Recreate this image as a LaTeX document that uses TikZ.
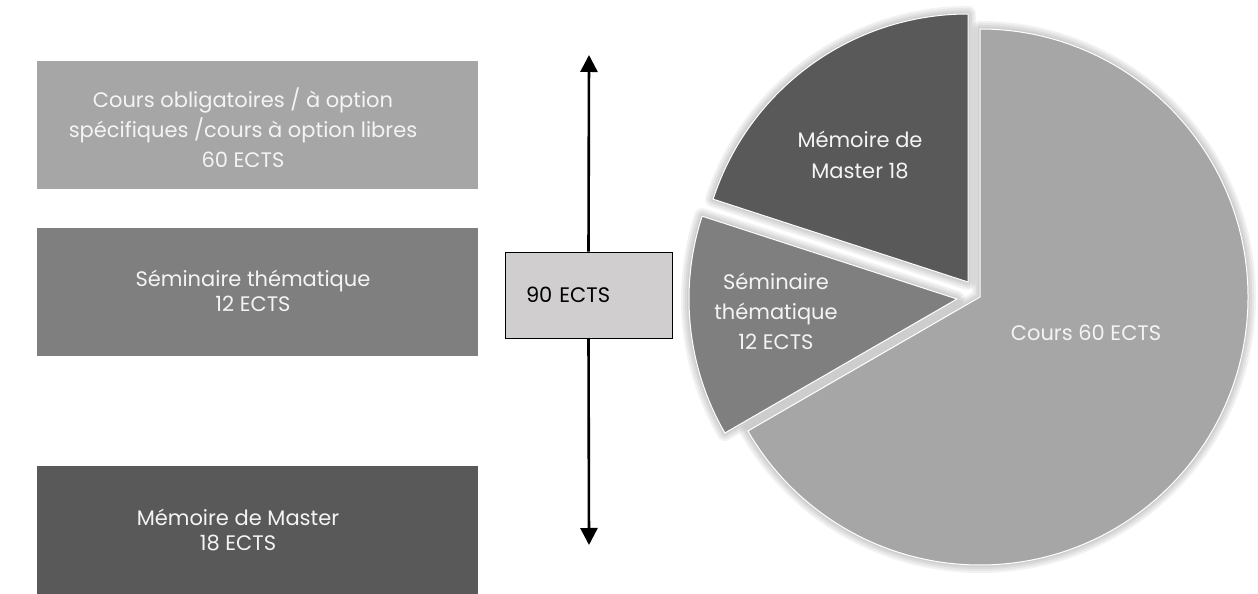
\documentclass[tikz,border=0pt]{standalone}
\usepackage{fontspec}
\setmainfont{Poppins}
\usetikzlibrary{arrows.meta}

\definecolor{grisclair}{HTML}{A6A6A6}
\definecolor{grismoyen}{HTML}{7F7F7F}
\definecolor{grisfonce}{HTML}{595959}
\definecolor{grisboite}{HTML}{D0CECE}
\definecolor{blanccasse}{HTML}{F4F4F4}

\tikzset{
  bloc/.style={rectangle, minimum width=441, minimum height=128, inner sep=0pt},
  texteblanc/.style={text=blanccasse, align=center, font=\fontsize{21pt}{25pt}\selectfont},
  part/.style={draw=white, line width=1pt},
  halo/.style={draw=black, line width=#1, line join=round, opacity=0.05}
}

\begin{document}
\begin{tikzpicture}[x=1pt, y=1pt]
		\useasboundingbox (0,0) rectangle (1258,594);
		
		% Blocs de gauche
		\node[bloc, fill=grisclair] (cours) at (257.5,469) {};
		\node[bloc, fill=grismoyen] (semi) at (257.5,301.5) {};
		\node[bloc, fill=grisfonce] (memo) at (257.5,63.5) {};
		
		\node[texteblanc, font=\fontsize{21pt}{30pt}\selectfont] (tcours) at (243,466) {Cours obligatoires / à option\\spécifiques /cours à option libres\\60 ECTS};
		\node[texteblanc] (tsemi) at (253,303) {Séminaire thématique\\12 ECTS};
		\node[texteblanc] (tmemo) at (238,64) {Mémoire de Master\\18 ECTS};
		
		% Total
		\coordinate (haut) at (589,539);
		\coordinate (bas) at (589,49);
		\node[draw=black, fill=grisboite, line width=0.8pt, minimum width=167, minimum height=86, text width=125pt, align=left, font=\fontsize{21pt}{25pt}\selectfont] (total) at (588.5,299) {90 ECTS};
		\draw[-{Triangle[width=17pt,length=17pt]}, line width=2.6pt] (total.north) -- (haut);
		\draw[-{Triangle[width=17pt,length=17pt]}, line width=2.6pt] (total.south) -- (bas);
		
		% Camembert (ombre douce)
		\foreach \w in {4,8,12,16}{
			\draw[halo=\w pt] (980,297) -- ++(90:268) arc[start angle=90, end angle=-150, radius=268] -- cycle;
			\draw[halo=\w pt] (957,295) -- ++(162:268) arc[start angle=162, end angle=210, radius=268] -- cycle;
			\draw[halo=\w pt] (968,312) -- ++(90:268) arc[start angle=90, end angle=162, radius=268] -- cycle;
		}
		
		\fill[grisclair, part] (980,297) -- ++(90:268) arc[start angle=90, end angle=-150, radius=268] -- cycle;
		\fill[grismoyen, part] (957,295) -- ++(162:268) arc[start angle=162, end angle=210, radius=268] -- cycle;
		\fill[grisfonce, part] (968,312) -- ++(90:268) arc[start angle=90, end angle=162, radius=268] -- cycle;
		
		\node[texteblanc, font=\fontsize{21pt}{30pt}\selectfont] (pcours) at (1086,261) {Cours 60 ECTS};
		\node[texteblanc, font=\fontsize{21pt}{30pt}\selectfont] (psemi) at (776,283) {Séminaire\\thématique\\12 ECTS};
		\node[texteblanc, font=\fontsize{21pt}{31pt}\selectfont] (pmemo) at (860,439) {Mémoire de\\Master 18};
	\end{tikzpicture}
\end{document}
